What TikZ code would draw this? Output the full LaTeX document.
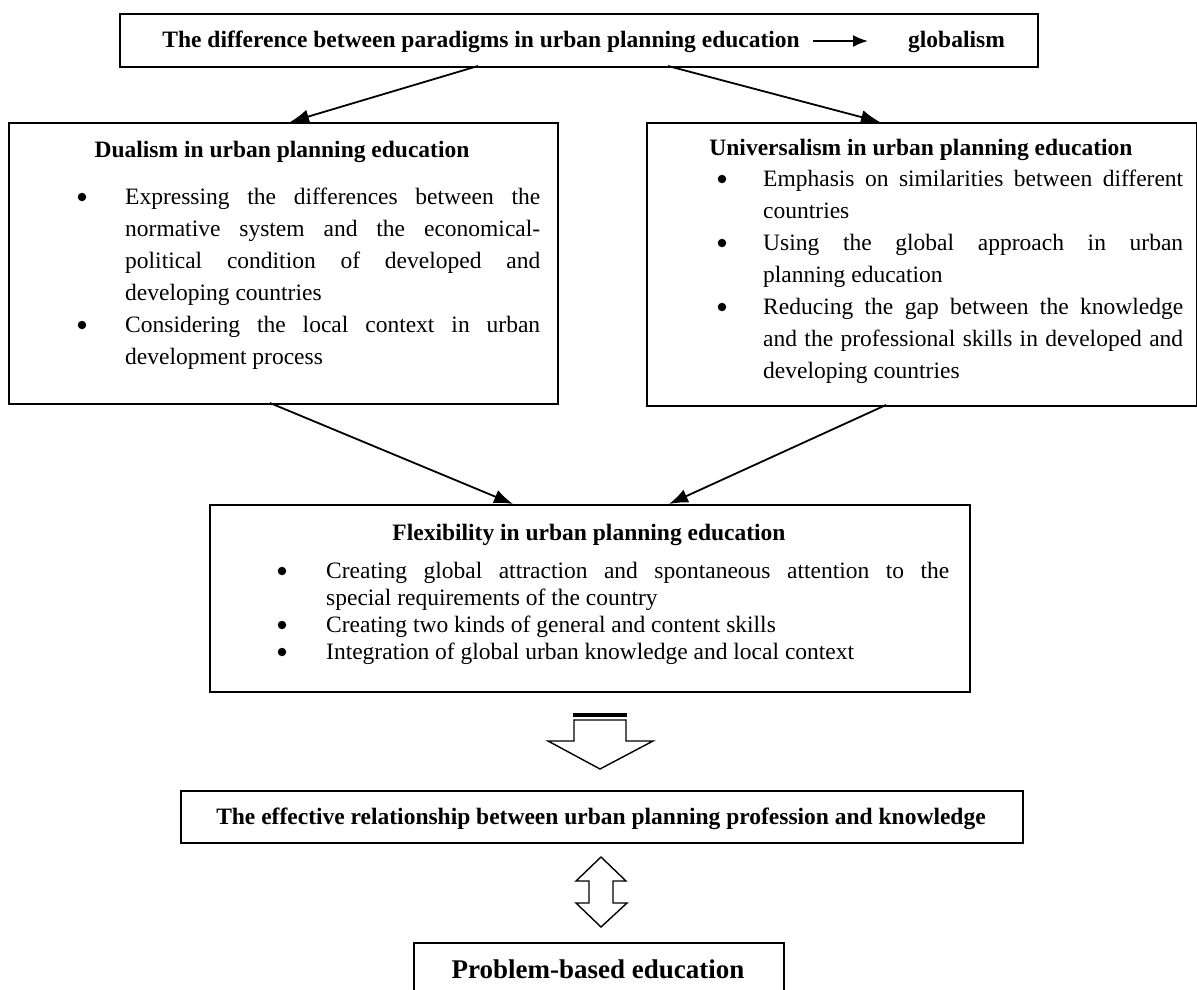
\documentclass[tikz,border=0pt]{standalone}
\usepackage{fontspec}
\setmainfont{Liberation Serif}
\usetikzlibrary{arrows.meta}
\begin{document}
\begin{tikzpicture}[x=1pt,y=-1pt,
  box/.style={draw, line width=1.6pt, inner sep=0pt, anchor=north west},
  conn/.style={line width=1.8pt, -{Latex[length=19pt,width=14pt]}},
  ttl/.style={font=\fontsize{23.5}{28}\selectfont\bfseries, inner sep=0pt, anchor=base},
  bul/.style={circle, fill=black, inner sep=0pt, minimum size=8.5pt},
  body/.style={font=\fontsize{23.5}{32}\selectfont, inner sep=0pt, align=justify, anchor=base west},
  flexbody/.style={font=\fontsize{23.5}{27}\selectfont, inner sep=0pt, align=justify, anchor=base west},
  blockarrow/.style={draw, line width=1.4pt, fill=white, line join=miter},
]
\useasboundingbox (0,0) rectangle (1197,990);

% ---------- top box ----------
\node[box, minimum width=918pt, minimum height=53pt] (top) at (119,13) {};
\node[ttl, anchor=base east] (toptext) at (800,48) {The difference between paradigms in urban planning education};
\node[ttl, anchor=base west] (glob) at (908,48) {globalism};
\draw[line width=2pt, -{Latex[length=15pt,width=12pt]}] ([xshift=13pt,yshift=7pt]toptext.base east) -- ([xshift=-40pt,yshift=7pt]glob.base west);

% ---------- dualism box ----------
\node[box, minimum width=549pt, minimum height=281pt] (dual) at (8,122) {};
\node[ttl] (dualt) at (282,157) {Dualism in urban planning education};
\node[bul] (dualb1) at (82,197) {};
\node[body, text width=415pt] (dual1) at (125,204) {Expressing the differences between the\linebreak normative system and the economical-\linebreak political condition of developed and\linebreak developing countries};
\node[bul] (dualb2) at (82,325) {};
\node[body, text width=415pt] (dual2) at (125,332) {Considering the local context in urban\linebreak development process};

% ---------- universalism box ----------
\node[box, minimum width=550pt, minimum height=283pt] (univ) at (646,122) {};
\node[ttl] (univt) at (921,155) {Universalism in urban planning education};
\node[bul] (univb1) at (722,179) {};
\node[body, text width=420pt] (univ1) at (763,186) {Emphasis on similarities between different\linebreak countries};
\node[bul] (univb2) at (722,243) {};
\node[body, text width=420pt] (univ2) at (763,250) {Using the global approach in urban\linebreak planning education};
\node[bul] (univb3) at (722,307) {};
\node[body, text width=420pt] (univ3) at (763,314) {Reducing the gap between the knowledge\linebreak and the professional skills in developed and\linebreak developing countries};

% ---------- flexibility box ----------
\node[box, minimum width=760pt, minimum height=187pt] (flex) at (209,504) {};
\node[ttl] (flext) at (589,540) {Flexibility in urban planning education};
\node[bul] (flexb1) at (282,571) {};
\node[flexbody, text width=623pt] (flex1) at (326,578) {Creating global attraction and spontaneous attention to the\linebreak special requirements of the country};
\node[bul] (flexb2) at (282,625) {};
\node[flexbody, text width=623pt] (flex2) at (326,632) {Creating two kinds of general and content skills};
\node[bul] (flexb3) at (282,652) {};
\node[flexbody, text width=623pt] (flex3) at (326,659) {Integration of global urban knowledge and local context};

% ---------- effective box ----------
\node[box, minimum width=842pt, minimum height=52pt] (eff) at (180,790) {};
\node[ttl] (efft) at (601,824) {The effective relationship between urban planning profession and knowledge};

% ---------- problem-based box ----------
\node[box, minimum width=370pt, minimum height=49pt] (prob) at (413,942) {};
\node[ttl, font=\fontsize{27}{32}\selectfont\bfseries] (probt) at (598,978) {Problem-based education};

% ---------- connectors ----------
\coordinate (t1) at (478,66);
\coordinate (t2) at (668,66);
\coordinate (d1) at (290,122);
\coordinate (u1) at (880,122);
\coordinate (d2) at (270,403);
\coordinate (u2) at (886,405);
\coordinate (f1) at (513,504);
\coordinate (f2) at (669,504);
\draw[conn] (t1) -- (d1);
\draw[conn] (t2) -- (u1);
\draw[conn] (d2) -- (f1);
\draw[conn] (u2) -- (f2);

% ---------- block arrow down ----------
\draw[blockarrow] (574,720) -- (574,741) -- (548,741) -- (600,769) -- (653,741) -- (626,741) -- (626,720) -- cycle;
\fill (573.3,712.5) rectangle (626.7,717.2);

% ---------- double block arrow ----------
\draw[blockarrow] (601,857) -- (626,881) -- (613,881) -- (613,903) -- (627,903) -- (601,927)
  -- (576,903) -- (589,903) -- (589,881) -- (576,881) -- cycle;
\end{tikzpicture}
\end{document}
